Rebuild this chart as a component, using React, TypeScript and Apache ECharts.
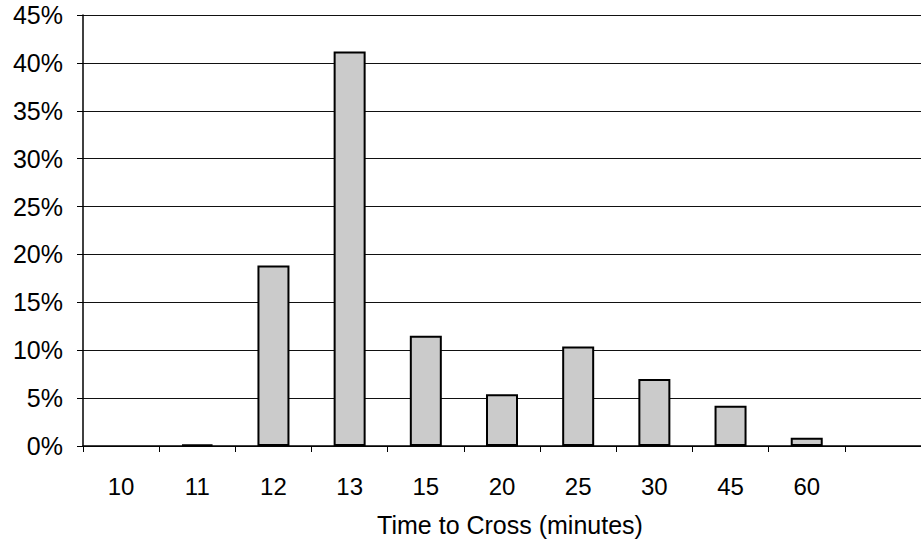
import React, { useEffect, useRef } from "react";
import * as echarts from "echarts";

const categories = ["10", "11", "12", "13", "15", "20", "25", "30", "45", "60", ""];
const shares = [0, 0.15, 18.85, 41.2, 11.5, 5.4, 10.4, 7.0, 4.2, 0.87, null];
const yTicks = { min: 0, max: 45, interval: 5 };
const xTitle = "Time to Cross (minutes)";

export default function App() {
  const ref = useRef<HTMLDivElement>(null);
  useEffect(() => {
    if (!ref.current) return;
    const chart = echarts.init(ref.current, null, { renderer: "svg" });
    const font = "'Liberation Sans', Arial, Helvetica, sans-serif";
    chart.setOption({
      animation: false,
      backgroundColor: "#ffffff",
      grid: { left: 83, right: -6, top: 15, bottom: 97, containLabel: false },
      xAxis: {
        type: "category",
        data: categories,
        boundaryGap: true,
        name: xTitle,
        nameLocation: "middle",
        nameGap: 66,
        nameTextStyle: { color: "#000", fontSize: 25, fontFamily: font, padding: [0, 0, 0, 16] },
        axisLine: { show: true, lineStyle: { color: "#000", width: 1.5 } },
        axisTick: { show: true, interval: 0, alignWithLabel: false, length: 6, lineStyle: { color: "#000", width: 1 } },
        axisLabel: { interval: 0, color: "#000", fontSize: 24, fontFamily: font, margin: 28 },
        splitLine: { show: false },
      },
      yAxis: {
        type: "value",
        min: yTicks.min,
        max: yTicks.max,
        interval: yTicks.interval,
        axisLine: { show: true, lineStyle: { color: "#000", width: 1.5 } },
        axisTick: { show: true, length: 6, lineStyle: { color: "#000", width: 1 } },
        axisLabel: { color: "#000", fontSize: 25, fontFamily: font, margin: 20, formatter: "{value}%" },
        splitLine: { show: true, lineStyle: { color: "#111", width: 1.2 } },
      },
      series: [
        {
          type: "bar",
          data: shares.map((v) =>
            v === 0 ? { value: v, itemStyle: { borderWidth: 0 } } : v
          ),
          barWidth: 32,
          itemStyle: { color: "#cbcbcb", borderColor: "#000", borderWidth: 2 },
        },
      ],
    });
    return () => chart.dispose();
  }, []);
  return (
    <div
      ref={ref}
      style={{ position: "fixed", left: 0, top: 0, width: 921, height: 543 }}
    />
  );
}
